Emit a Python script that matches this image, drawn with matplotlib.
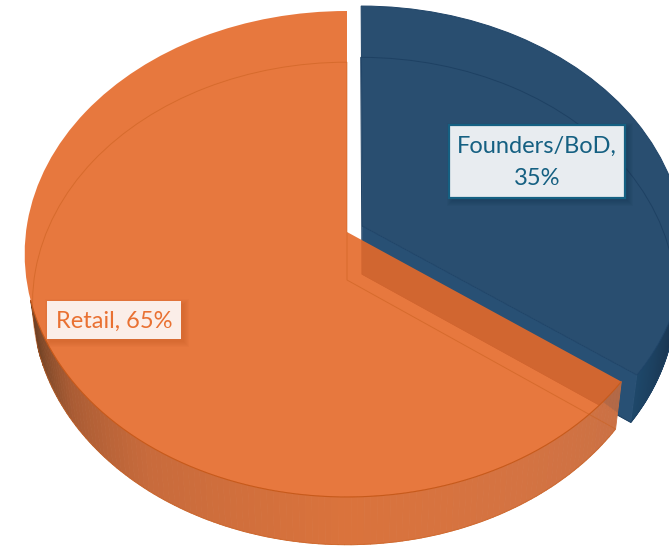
import numpy as np
import matplotlib
matplotlib.use("Agg")
import matplotlib.pyplot as plt
from matplotlib.collections import PolyCollection
from matplotlib.patches import Polygon, Rectangle
from matplotlib.path import Path
from matplotlib.transforms import Transform

labels = ["Founders/BoD", "Retail"]
values = [35, 65]
explode = [0.054, 0]


# tilted disc seen in perspective, unit pie -> pixels
class Persp(Transform):
  input_dims = 2
  output_dims = 2
  has_inverse = False
  is_affine = False

  def __init__(self, cx, cy, rx, ry, k):
    super().__init__()
    self.p = (cx, cy, rx, ry, k)

  def transform_non_affine(self, xy):
    cx, cy, rx, ry, k = self.p
    xy = np.asarray(xy)
    w = 1 + k * xy[:, 1]
    return np.column_stack((cx + rx * xy[:, 0] / w, cy - ry * xy[:, 1] / w))


top = Persp(347, 232, 321, 241, 0.0905)
low = Persp(347, 280, 313, 239, 0.0973)


def rim(wedge, theta, tr):
  t = np.radians(theta)
  pts = np.column_stack((wedge.center[0] + wedge.r * np.cos(t), wedge.center[1] + wedge.r * np.sin(t)))
  return tr.transform_non_affine(pts)


def side(wedge, t0, t1, angles, shades, n=120):
  # outer wall between the two discs, darker towards the back
  th = np.linspace(t0, t1, n + 1)
  a = rim(wedge, th, top)
  b = rim(wedge, th, low)
  polys = [[a[i], a[i + 1], b[i + 1], b[i]] for i in range(n)]
  mid = (th[:-1] + th[1:]) / 2
  shades = np.array(shades) / 255
  cols = np.column_stack([np.interp(mid, angles, shades[:, c]) for c in range(3)])
  return PolyCollection(polys, facecolors=cols, edgecolors=cols, linewidths=0.6)


fig, ax = plt.subplots(figsize=(6.69, 5.47), dpi=100)
fig.subplots_adjust(left=0, right=1, top=1, bottom=0)

orange = "#E56929"
blue = "#294E70"

# lower disc first, only the thin outlines show in the end
low_w, _ = ax.pie(values, explode=explode, startangle=90, counterclock=False, radius=1,
                  colors=["none", "none"])
top_w, _ = ax.pie(values, explode=explode, startangle=90, counterclock=False, radius=1,
                  colors=[blue, orange])
for w in low_w:
  w.set_transform(low + ax.transData)
for w in top_w:
  w.set_transform(top + ax.transData)

b_top, o_top = top_w
b_low, o_low = low_w

# blue wall and cut face
wall = side(b_top, -36, 8, [-36, -25, -10, 8],
            [(30, 72, 106), (27, 60, 90), (24, 48, 74), (22, 42, 66)])
wall.set_zorder(1)
ax.add_collection(wall)
p0 = top.transform_non_affine(np.array([b_top.center]))[0]
p1 = low.transform_non_affine(np.array([b_low.center]))[0]
e0 = rim(b_top, [-36], top)[0]
e1 = rim(b_low, [-36], low)[0]
ax.add_patch(Polygon([p0, e0, e1, p1], closed=True, fc="#285074", ec="#285074", lw=0.5, zorder=1.1))

b_top.set(zorder=2, edgecolor="#1F4468", linewidth=0.7)
b_low.set(zorder=2.1, facecolor="none", edgecolor="#1E4163", linewidth=0.7)

# orange wall over the blue block
wall = side(o_top, -164, -36, [-164, -158, -145, -125, -90, -60, -36],
            [(105, 62, 36), (125, 72, 40), (170, 92, 52), (200, 107, 60),
             (218, 115, 60), (212, 115, 66), (203, 113, 68)])
wall.set_zorder(3)
ax.add_collection(wall)

# blue shows a bit through the end of the wall
a = rim(o_top, np.linspace(-60, -36, 30), top)
b = rim(o_top, np.linspace(-36, -60, 30), low)
clip = Path(np.vstack((a, b, a[:1])), closed=True)
over = Polygon(np.vstack((rim(b_low, np.linspace(-36, 8, 30), low), [p1], [p0])), closed=True,
               fc="#183A5C", ec="none", alpha=0.13, zorder=3.1)
ax.add_patch(over)
over.set_clip_path(clip, ax.transData)

o_top.set(zorder=4, alpha=0.9, edgecolor="none")
front = rim(o_top, np.linspace(-36, -164, 150), top)
ax.plot(front[:, 0], front[:, 1], color="#C75A1B", lw=0.8, zorder=4.2, solid_capstyle="butt")
o_low.set(zorder=4.1, facecolor="none", edgecolor="#C9601F", alpha=0.55, linewidth=0.7)


def label_box(x0, y0, x1, y1, fc, ec, lw, text, color, shadow):
  for i in range(6, 0, -1):
    ax.add_patch(Rectangle((x0 + 4 - i, y0 + 4 - i), x1 - x0 + 2 * i - 2, y1 - y0 + 2 * i - 2,
                           fc=shadow, ec="none", alpha=0.05, zorder=5))
  ax.add_patch(Rectangle((x0, y0), x1 - x0, y1 - y0, fc=fc, ec=ec, lw=lw, zorder=6))
  ax.text((x0 + x1) / 2, (y0 + y1) / 2 + 1, text, color=color, fontsize=17, family="Lato",
          ha="center", va="center", linespacing=1.7, zorder=7)


label_box(449, 125, 625, 198, "#E8ECF0", "#156082", 1.6, f"{labels[0]},\n{values[0]}%", "#156082", "#0F2A44")
label_box(47, 301, 181, 339, "#FBEEE8", "none", 0, f"{labels[1]}, {values[1]}%", "#E97132", "#B8501A")

ax.set_aspect("auto")
ax.set_xlim(0, 669)
ax.set_ylim(547, 0)
ax.axis("off")

plt.savefig("out.png", dpi=100)
